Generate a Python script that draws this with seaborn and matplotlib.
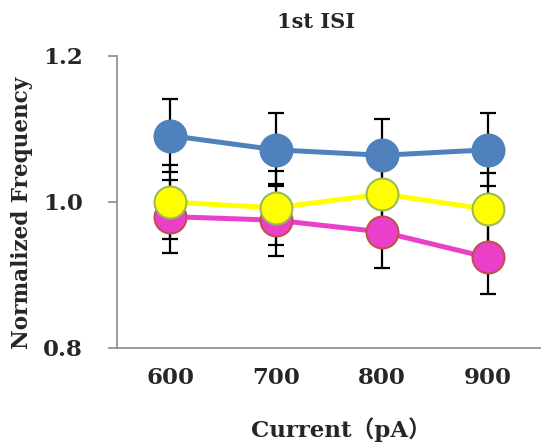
import matplotlib
matplotlib.use("Agg")
import matplotlib.pyplot as plt
import seaborn as sns
import pandas as pd

# Normalized 1st ISI frequency per injected current step
currents = ["600", "700", "800", "900"]
blue_mean = [1.091, 1.0715, 1.064, 1.0715]
blue_err = [0.05, 0.05, 0.05, 0.05]
yellow_mean = [1.000, 0.992, 1.011, 0.990]
yellow_err = [0.051, 0.051, 0.05, 0.05]
pink_mean = [0.980, 0.975, 0.959, 0.924]
pink_err = [0.05, 0.049, 0.05, 0.05]

y_ticks = [0.8, 1.0, 1.2]
y_tick_labels = ["0.8", "1.0", "1.2"]

sns.set_style("white")
plt.rcParams["font.family"] = ["DejaVu Serif", "Noto Sans CJK JP"]
plt.rcParams["font.weight"] = "bold"

fig = plt.figure(figsize=(5.41, 4.45), dpi=100)
ax = fig.add_axes([117 / 541, 1 - 348 / 445, 1 - 117 / 541, (348 - 56) / 445])

series = [
    ("pink", pink_mean, pink_err, "#E93FC9", "#C0504D", 2),
    ("yellow", yellow_mean, yellow_err, "#FFFF00", "#9BBB59", 3),
    ("blue", blue_mean, blue_err, "#4F81BD", "#4F81BD", 4),
]

for name, mean, err, color, edge, z in series:
    df = pd.DataFrame({"current": currents, "value": mean})
    ax.errorbar(currents, mean, yerr=err, fmt="none", ecolor="black",
                elinewidth=1.6, capsize=5.5, capthick=1.6, zorder=1)
    sns.lineplot(data=df, x="current", y="value", ax=ax, color=color,
                 linewidth=3.6, marker="o", markersize=23,
                 markerfacecolor=color, markeredgecolor=edge,
                 markeredgewidth=1.5, zorder=z, sort=False)

ax.set_xlim(-0.5, 3.5)
ax.set_ylim(0.8, 1.2)
ax.set_yticks(y_ticks)
ax.set_yticklabels(y_tick_labels)

for side in ["top", "right"]:
    ax.spines[side].set_visible(False)
for side in ["left", "bottom"]:
    ax.spines[side].set_color("#8C8C8C")
    ax.spines[side].set_linewidth(1.2)
    ax.spines[side].set_zorder(0)
ax.spines["left"].set_bounds(0.8, 1.2)

ax.tick_params(axis="y", which="both", left=True, length=6.5, width=1.2,
               color="#8C8C8C", direction="out", pad=18, labelsize=16.5)
ax.tick_params(axis="x", which="both", bottom=False, length=0, pad=14,
               labelsize=16.5)

ax.set_xlabel("Current（pA）", fontsize=16.5, fontweight="bold")
ax.xaxis.set_label_coords((341 - 117) / (541 - 117), -(430 - 348) / (348 - 56))
ax.xaxis.label.set_va("center")
ax.set_ylabel("Normalized Frequency", fontsize=15.5, fontweight="bold")
ax.yaxis.set_label_coords(-(117 - 22) / (541 - 117), (348 - 213) / (348 - 56))
ax.yaxis.label.set_va("center")
fig.text(316 / 541, 1 - 22 / 445, "1st ISI", ha="center", va="center",
         fontsize=15, fontweight="bold")

fig.savefig("out.png", dpi=100)
